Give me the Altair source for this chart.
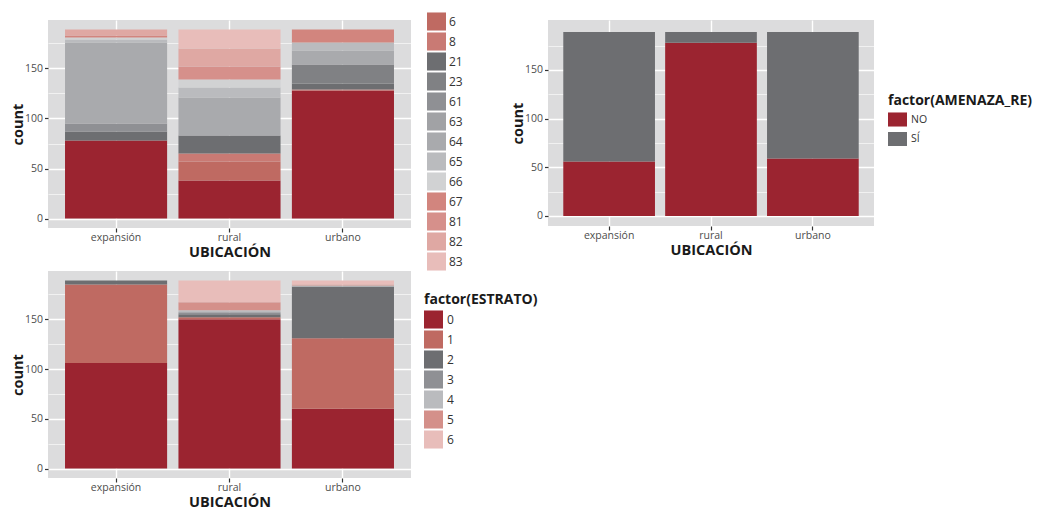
import altair as alt
import pandas as pd

UBICACION = ["expansión", "rural", "urbano"]

# Panel 1 (top-left): categories, colours, counts per ubicación
CAT1 = ["1", "6", "8", "21", "23", "61", "63", "64", "65", "66", "67", "81", "82", "83"]
COL1 = ["#9b2430", "#bf6a62", "#c97a74", "#6d6e71", "#808184", "#8f9094", "#a1a2a5",
        "#a9aaad", "#babbbe", "#d1d2d3", "#d2857e", "#d6908b", "#dfa8a3", "#e8bdba"]
N1_EXP = [78, 0, 0, 9, 0, 8, 0, 81, 3, 2, 2, 0, 6, 0]
N1_RUR = [38, 19, 8, 18, 0, 0, 0, 38, 10, 8, 0, 13, 18, 19]
N1_URB = [128, 0, 1, 6, 19, 0, 0, 14, 8, 0, 13, 0, 0, 0]

# Panel 2 (top-right): AMENAZA_RE
CAT2 = ["NO", "SÍ"]
COL2 = ["#9b2430", "#6d6e71"]
N2_NO = [56, 178, 59]
N2_SI = [133, 11, 130]

# Panel 3 (bottom-left): ESTRATO
CAT3 = ["0", "1", "2", "3", "4", "5", "6"]
COL3 = ["#9b2430", "#bf6a62", "#6d6e71", "#8f9094", "#babbbe", "#d4908a", "#e8bdba"]
N3_EXP = [106, 79, 4, 0, 0, 0, 0]
N3_RUR = [150, 2, 3, 2, 2, 8, 22]
N3_URB = [60, 71, 52, 0, 1, 1, 4]


def build(cats, series):
    rows = []
    for ub, counts in zip(UBICACION, series):
        for i, (c, n) in enumerate(zip(cats, counts)):
            if n > 0:
                rows.append({"UBICACION": ub, "cat": c, "n": n, "ord": i})
    return pd.DataFrame(rows)


df1 = build(CAT1, [N1_EXP, N1_RUR, N1_URB])
df2 = build(CAT2, [[N2_NO[k], N2_SI[k]] for k in range(3)])
df3 = build(CAT3, [N3_EXP, N3_RUR, N3_URB])

FONT = "Open Sans"
MAJOR = "datum.value % 50 === 0"


def panel(df, cats, colors, w, h, ydom, legend):
    yaxis = alt.Axis(
        values=[0, 25, 50, 75, 100, 125, 150, 175],
        labelExpr="datum.value % 50 === 0 ? datum.label : ''",
        tickOpacity={"condition": {"test": MAJOR, "value": 1}, "value": 0},
        gridWidth={"condition": {"test": MAJOR, "value": 1.4}, "value": 0.6},
        gridColor="white", gridOpacity=1, domain=False,
        tickColor="#333333", tickSize=3.5, tickWidth=1.2, labelPadding=2,
        labelColor="#4d4d4d", labelFontSize=10.5, labelFont=FONT,
        titleFont=FONT, titleFontSize=14.5, titleFontWeight="bold",
        titleColor="#1a1a1a", titleX=-23,
    )
    xaxis = alt.Axis(
        grid=True, bandPosition=0.5, gridColor="white", gridWidth=1.4, gridOpacity=1,
        domain=False, tickColor="#333333", tickSize=4, tickWidth=1.2, tickBand="center",
        labelAngle=0, labelPadding=0, labelColor="#4d4d4d", labelFontSize=10.5,
        labelFont=FONT, titleFont=FONT, titleFontSize=14.5, titleFontWeight="bold",
        titleColor="#1a1a1a", titlePadding=3,
    )
    return alt.Chart(df).mark_bar().encode(
        x=alt.X("UBICACION:N", title="UBICACIÓN", axis=xaxis,
                scale=alt.Scale(domain=UBICACION, paddingInner=0.1, paddingOuter=0.15)),
        y=alt.Y("sum(n):Q", title="count", axis=yaxis, stack="zero",
                scale=alt.Scale(domain=ydom, nice=False, zero=False)),
        color=alt.Color("cat:N", scale=alt.Scale(domain=cats, range=colors), legend=legend),
        order=alt.Order("ord:Q", sort="ascending"),
    ).properties(width=w, height=h)


leg1 = alt.Legend(
    orient="none", legendX=379, legendY=-8, title=None, values=CAT1[1:],
    symbolType="M-1,-0.95H1V0.95H-1Z", symbolSize=361, symbolStrokeWidth=0,
    symbolOpacity=1, labelFontSize=12, labelColor="#333333", labelFont=FONT,
    rowPadding=1, labelOffset=3, padding=0,
)
leg2 = alt.Legend(
    orient="none", legendX=340, legendY=74, title="factor(AMENAZA_RE)",
    symbolType="M-1,-0.74H1V0.74H-1Z", symbolSize=361, symbolStrokeWidth=0,
    symbolOpacity=1, labelFontSize=10.5, labelColor="#333333", labelFont=FONT,
    titleFont=FONT, titleFontSize=14, titleFontWeight="bold", titleColor="#1a1a1a",
    titlePadding=2, rowPadding=2.5, labelOffset=4, padding=0,
)
leg3 = alt.Legend(
    orient="none", legendX=376, legendY=22, title="factor(ESTRATO)",
    symbolType="M-1,-0.95H1V0.95H-1Z", symbolSize=361, symbolStrokeWidth=0,
    symbolOpacity=1, labelFontSize=12, labelColor="#333333", labelFont=FONT,
    titleFont=FONT, titleFontSize=14, titleFontWeight="bold", titleColor="#1a1a1a",
    titlePadding=3, rowPadding=1, labelOffset=4, padding=0,
)

p1 = panel(df1, CAT1, COL1, 363, 208, [-9.45, 198.45], leg1)
p2 = panel(df2, CAT2, COL2, 326, 206, [-10.3, 201.3], leg2)
p3 = panel(df3, CAT3, COL3, 363, 207, [-9.45, 198.45], leg3)

chart = alt.concat(
    p1, p2, p3, columns=2, bounds="flush", align="all",
    spacing={"row": 43, "column": 137},
).resolve_scale(
    x="independent", y="independent", color="independent"
).properties(
    padding={"left": 2, "top": 4, "right": 0, "bottom": 0},
    background="white",
).configure_view(
    fill="#dcdcdd", strokeWidth=0
)

chart.save("out.html", embed_options={"renderer": "svg", "actions": False})
